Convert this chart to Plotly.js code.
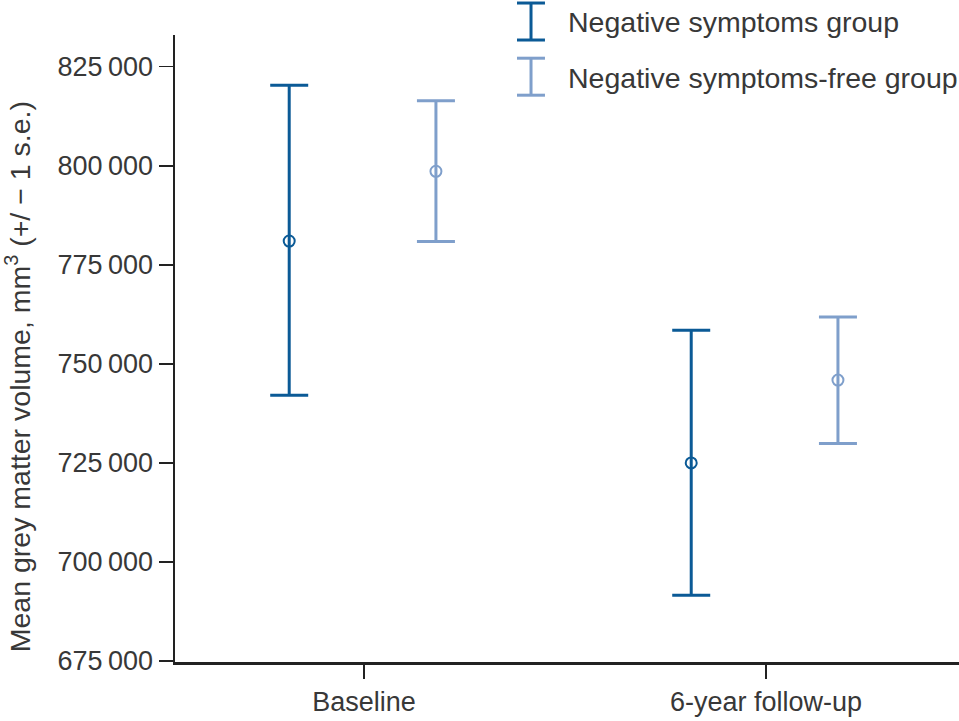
<!DOCTYPE html>
<html>
<head>
<meta charset="utf-8">
<script src="https://cdn.plot.ly/plotly-3.0.1.min.js"></script>
<style>html,body{margin:0;padding:0;background:#fff;}#chart{width:959px;height:721px;}</style>
</head>
<body>
<div id="chart"></div>
<script>
// Categories (x positions 0 and 1 on a numeric axis)
var categories = ["Baseline", "6-year follow-up"];
var categoryIndex = [0, 1];

// Negative symptoms group
var negMean  = [781000, 725000];
var negUpper = [820300, 758500];
var negLower = [742100, 691600];

// Negative symptoms-free group
var freeMean  = [798600, 745900];
var freeUpper = [816400, 761800];
var freeLower = [780900, 729900];

var seriesNames = ["Negative symptoms group", "Negative symptoms-free group"];

var yTickVals = [675000, 700000, 725000, 750000, 775000, 800000, 825000];
var yTickText = ["675\u2009000", "700\u2009000", "725\u2009000", "750\u2009000", "775\u2009000", "800\u2009000", "825\u2009000"];

var darkBlue = "#0b5a96";
var lightBlue = "#7f9fcb";
var textColor = "#383838";
var FONT = "Liberation Sans, Arial, sans-serif";

var offNeg = -0.186, offFree = 0.179;

function mk(mean, up, lo, off, color, name) {
  return {
    type: "scatter", mode: "markers", name: name,
    x: categoryIndex.map(function (c) { return c + off; }),
    y: mean,
    marker: {symbol: "circle-open", size: 11, color: color, line: {width: 2, color: color}},
    error_y: {
      type: "data", symmetric: false,
      array: up.map(function (u, i) { return u - mean[i]; }),
      arrayminus: lo.map(function (l, i) { return mean[i] - l; }),
      color: color, thickness: 3, width: 19
    },
    showlegend: false, hoverinfo: "skip"
  };
}

var data = [
  mk(negMean, negUpper, negLower, offNeg, darkBlue, seriesNames[0]),
  mk(freeMean, freeUpper, freeLower, offFree, lightBlue, seriesNames[1])
];

var layout = {
  width: 959, height: 721,
  margin: {l: 175, r: 0, t: 35, b: 59},
  paper_bgcolor: "#fff", plot_bgcolor: "#fff",
  showlegend: false,
  font: {family: FONT, color: textColor, size: 26},
  xaxis: {
    range: [-0.4701, 1.4801],
    tickvals: categoryIndex, ticktext: categories,
    showgrid: false, zeroline: false,
    showline: true, linecolor: "#222", linewidth: 2.5,
    ticks: "outside", ticklen: 14, tickwidth: 1.5, tickcolor: "#222",
    tickfont: {family: FONT, size: 27, color: textColor},
    fixedrange: true
  },
  yaxis: {
    range: [674750, 833000],
    tickvals: yTickVals, ticktext: yTickText,
    showgrid: false, zeroline: false,
    showline: true, linecolor: "#222", linewidth: 2.5,
    ticks: "outside", ticklen: 14, tickwidth: 1.5, tickcolor: "#222",
    tickfont: {family: FONT, size: 27, color: textColor},
    fixedrange: true
  },
  annotations: [
    {xref: "paper", yref: "paper", x: -0.200, y: 0.4545, xanchor: "center", yanchor: "middle",
     text: "Mean grey matter volume, mm<sup>3</sup> (+/ \u2212 1 s.e.)", textangle: -90, showarrow: false,
     font: {family: FONT, size: 28.5, color: textColor}},
    {xref: "paper", yref: "paper", x: 0.4987, y: 1.0207, xanchor: "left", yanchor: "middle",
     text: seriesNames[0], showarrow: false, font: {family: FONT, size: 28.5, color: textColor}},
    {xref: "paper", yref: "paper", x: 0.4987, y: 0.9317, xanchor: "left", yanchor: "middle",
     text: seriesNames[1], showarrow: false, font: {family: FONT, size: 28.5, color: textColor}}
  ],
  shapes: [
    // legend icon 1
    {type: "line", xref: "paper", yref: "paper", x0: 0.4541, x1: 0.4541, y0: 1.051, y1: 0.992, line: {color: darkBlue, width: 3}},
    {type: "line", xref: "paper", yref: "paper", x0: 0.4362, x1: 0.4719, y0: 1.051, y1: 1.051, line: {color: darkBlue, width: 3}},
    {type: "line", xref: "paper", yref: "paper", x0: 0.4362, x1: 0.4719, y0: 0.992, y1: 0.992, line: {color: darkBlue, width: 3}},
    // legend icon 2
    {type: "line", xref: "paper", yref: "paper", x0: 0.4541, x1: 0.4541, y0: 0.963, y1: 0.904, line: {color: lightBlue, width: 3}},
    {type: "line", xref: "paper", yref: "paper", x0: 0.4362, x1: 0.4719, y0: 0.963, y1: 0.963, line: {color: lightBlue, width: 3}},
    {type: "line", xref: "paper", yref: "paper", x0: 0.4362, x1: 0.4719, y0: 0.904, y1: 0.904, line: {color: lightBlue, width: 3}}
  ]
};

Plotly.newPlot("chart", data, layout, {displayModeBar: false, staticPlot: true});
</script>
</body>
</html>
